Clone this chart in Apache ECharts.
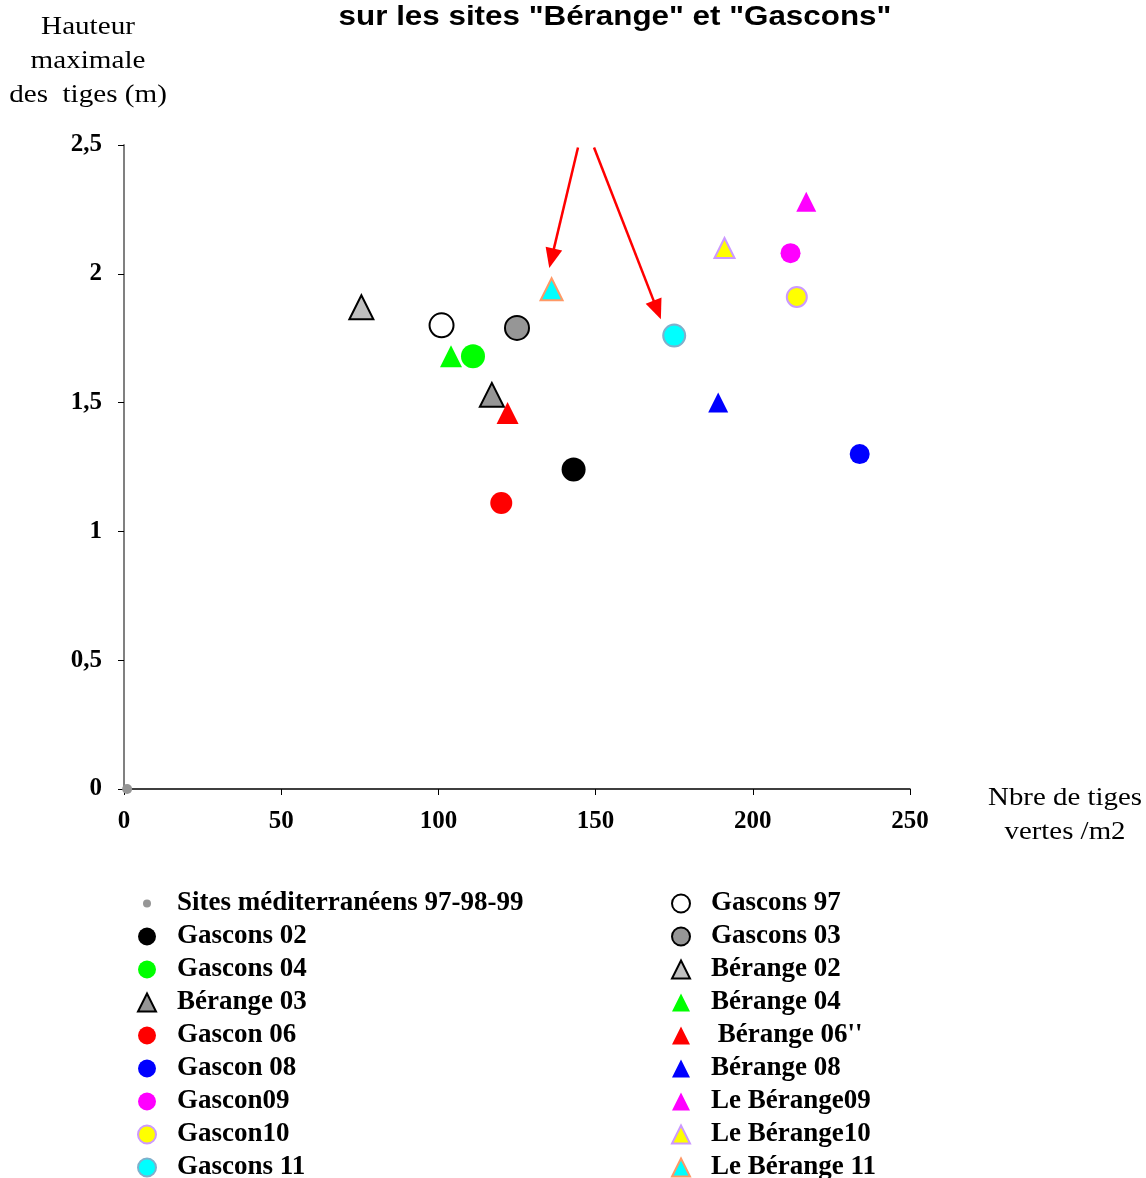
<!DOCTYPE html>
<html>
<head>
<meta charset="utf-8">
<script src="https://cdn.jsdelivr.net/npm/echarts@6/dist/echarts.min.js"></script>
<style>html,body{margin:0;padding:0;background:#fff}#c{width:1146px;height:1178px}</style>
</head>
<body>
<div id="c"></div>
<script>
// ---- data ----
const seriesNames = ["Sites méditerranéens 97-98-99","Gascons 97","Gascons 02","Gascons 03","Gascons 04","Bérange 02","Bérange 03","Bérange 04","Gascon 06"," Bérange 06''","Gascon 08","Bérange 08","Gascon09","Le Bérange09","Gascon10","Le Bérange10","Gascons 11","Le Bérange 11"];
const xValues = [1, 101, 143, 125, 111, 75.5, 117, 104, 120, 122, 234, 189, 212, 217, 214, 191, 175, 136];
const yValues = [0, 1.80, 1.24, 1.79, 1.68, 1.87, 1.53, 1.68, 1.11, 1.46, 1.30, 1.50, 2.08, 2.28, 1.91, 2.10, 1.76, 1.94];
const legendLeft = ["Sites méditerranéens 97-98-99","Gascons 02","Gascons 04","Bérange 03","Gascon 06","Gascon 08","Gascon09","Gascon10","Gascons 11"];
const legendRight = ["Gascons 97","Gascons 03","Bérange 02","Bérange 04"," Bérange 06''","Bérange 08","Le Bérange09","Le Bérange10","Le Bérange 11"];
const yTicks = ["0","0,5","1","1,5","2","2,5"];
const xTicks = ["0","50","100","150","200","250"];
// annotation arrows [start, end] in data units
const arrow1 = [[144.4, 2.49], [136.0, 2.06]];
const arrow2 = [[149.5, 2.49], [169.6, 1.86]];

// ---- styles ----
const styles = {
  "Sites méditerranéens 97-98-99": {symbol:'circle', size:10, color:'#969696'},
  "Gascons 97": {symbol:'circle', size:24, color:'#ffffff', border:'#000000', bw:2},
  "Gascons 02": {symbol:'circle', size:24, color:'#000000'},
  "Gascons 03": {symbol:'circle', size:24, color:'#969696', border:'#000000', bw:2},
  "Gascons 04": {symbol:'circle', size:24, color:'#00ff00'},
  "Bérange 02": {symbol:'triangle', size:24, color:'#c0c0c0', border:'#000000', bw:2},
  "Bérange 03": {symbol:'triangle', size:24, color:'#969696', border:'#000000', bw:2},
  "Bérange 04": {symbol:'triangle', size:22, color:'#00ff00'},
  "Gascon 06": {symbol:'circle', size:22, color:'#ff0000'},
  " Bérange 06''": {symbol:'triangle', size:22, color:'#ff0000'},
  "Gascon 08": {symbol:'circle', size:20, color:'#0000ff'},
  "Bérange 08": {symbol:'triangle', size:20, color:'#0000ff'},
  "Gascon09": {symbol:'circle', size:20, color:'#ff00ff'},
  "Le Bérange09": {symbol:'triangle', size:20, color:'#ff00ff'},
  "Gascon10": {symbol:'circle', size:20, color:'#ffff00', border:'#cc99ff', bw:2},
  "Le Bérange10": {symbol:'triangle', size:20, color:'#ffff00', border:'#cc99ff', bw:2},
  "Gascons 11": {symbol:'circle', size:22, color:'#00ffff', border:'#7fb0cc', bw:2},
  "Le Bérange 11": {symbol:'triangle', size:22, color:'#00ffff', border:'#ff9966', bw:2}
};

const chart = echarts.init(document.getElementById('c'), null, {renderer:'canvas'});

const series = seriesNames.map((n, i) => {
  const s = styles[n];
  return {
    name: n, type: 'scatter', clip: false,
    symbol: s.symbol, symbolSize: s.size,
    data: [[xValues[i], yValues[i]]],
    itemStyle: {color: s.color, borderColor: s.border || s.color, borderWidth: s.bw || 0, opacity: 1},
    emphasis: {disabled: true},
    z: 3
  };
});
series.push({
  name: '_arrows', type: 'line', data: [], silent: true, showSymbol: false,
  markLine: {
    silent: true, symbol: ['none', 'triangle'], symbolSize: [17, 20],
    label: {show: false},
    lineStyle: {color: '#ff0000', width: 2.5, type: 'solid'},
    itemStyle: {color: '#ff0000'},
    emphasis: {disabled: true},
    data: [
      [{coord: arrow1[0]}, {coord: arrow1[1]}],
      [{coord: arrow2[0]}, {coord: arrow2[1]}]
    ]
  }
});

const iconFor = n => styles[n].symbol === 'circle' && styles[n].size < 12
  ? 'path://M0,0M18,18M9,5a4,4 0 1,0 0.001,0z' : undefined;

const legendText = {fontFamily: '"Liberation Serif","Times New Roman",serif', fontWeight: 'bold', fontSize: 27, color: '#000', lineHeight: 33, padding: [0,0,0,16]};
const serif = '"Liberation Serif","Times New Roman",serif';

chart.setOption({
  animation: false,
  backgroundColor: '#ffffff',
  grid: {left: 124, top: 145, right: 236, bottom: 389, containLabel: false},
  xAxis: {
    type: 'value', min: 0, max: 250, interval: 50,
    axisLine: {show: true, onZero: false, lineStyle: {color: '#000', width: 1.5}},
    axisTick: {show: true, inside: false, length: 6, lineStyle: {color: '#000'}},
    splitLine: {show: false},
    axisLabel: {margin: 20, color: '#000', fontFamily: serif, fontWeight: 'bold', fontSize: 25,
      formatter: v => xTicks[Math.round(v / 50)]}
  },
  yAxis: {
    type: 'value', min: 0, max: 2.5, interval: 0.5,
    axisLine: {show: true, onZero: false, lineStyle: {color: '#808080', width: 2}},
    axisTick: {show: true, inside: false, length: 6, lineStyle: {color: '#000'}},
    splitLine: {show: false},
    axisLabel: {margin: 22, color: '#000', fontFamily: serif, fontWeight: 'bold', fontSize: 25,
      formatter: v => yTicks[Math.round(v / 0.5)]}
  },
  legend: [
    {orient: 'vertical', left: 137, top: 887, height: 300, padding: 0, itemWidth: 18, itemHeight: 18, itemGap: 0,
     data: legendLeft.map(n => ({name: n, icon: iconFor(n)})), textStyle: legendText, selectedMode: false},
    {orient: 'vertical', left: 671, top: 887, height: 300, padding: 0, itemWidth: 18, itemHeight: 18, itemGap: 0,
     data: legendRight.map(n => ({name: n})), textStyle: legendText, selectedMode: false}
  ],
  graphic: [
    {type: 'text', x: 615, y: 3, scaleX: 1.12, originX: 0, style: {text: 'sur les sites "Bérange" et "Gascons"', align: 'center', verticalAlign: 'top', fontFamily: '"Liberation Sans",Arial,sans-serif', fontWeight: 'bold', fontSize: 28, fill: '#000'}},
    {type: 'text', x: 88, y: 10, scaleX: 1.12, style: {text: 'Hauteur\nmaximale\ndes  tiges (m)', align: 'center', verticalAlign: 'top', lineHeight: 34, fontFamily: serif, fontSize: 26, fill: '#000'}},
    {type: 'text', x: 1065, y: 781, scaleX: 1.11, style: {text: 'Nbre de tiges\nvertes /m2', align: 'center', verticalAlign: 'top', lineHeight: 34, fontFamily: serif, fontSize: 26, fill: '#000'}}
  ],
  series: series
});
</script>
</body>
</html>
